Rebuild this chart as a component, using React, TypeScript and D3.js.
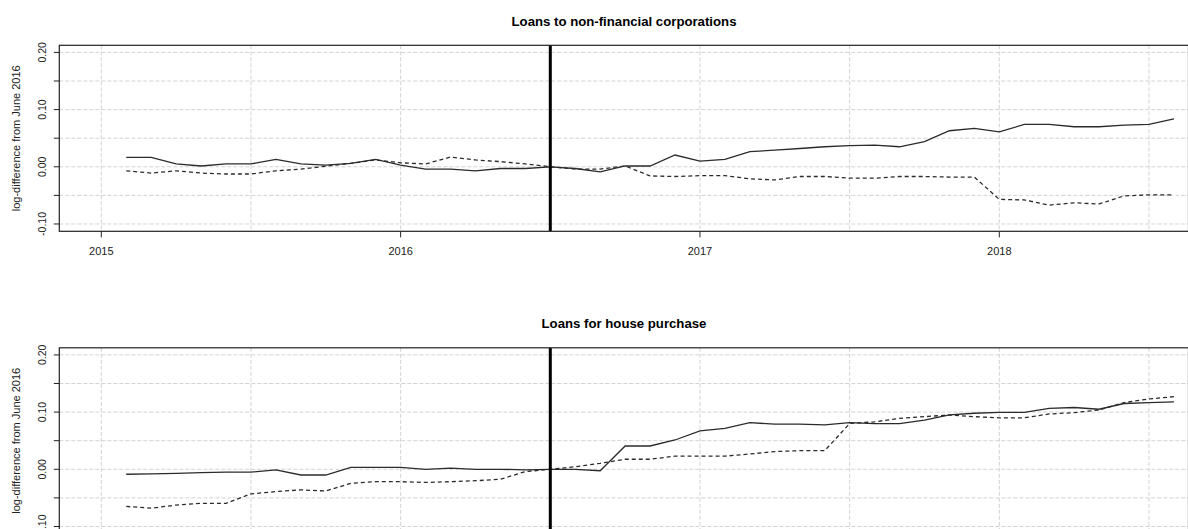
import React from "react";
import * as d3 from "d3";

// Monthly observations, Feb 2015 (index 0) to Aug 2018 (index 42)
const startYear = 2015;
const startMonthOffset = 1; // first obs = 2015 + 1/12
const nObs = 43;

const nfcActual = [
  0.0166, 0.0166, 0.005, 0.0014, 0.005, 0.005, 0.013, 0.005, 0.003, 0.006,
  0.013, 0.003, -0.004, -0.004, -0.007, -0.003, -0.003, 0, -0.003, -0.009,
  0.0014, 0.0014, 0.0206, 0.01, 0.013, 0.0264, 0.029, 0.032, 0.035, 0.037,
  0.038, 0.035, 0.044, 0.063, 0.067, 0.061, 0.074, 0.074, 0.07, 0.07,
  0.073, 0.074, 0.0836,
];
const nfcOther = [
  -0.007, -0.011, -0.007, -0.011, -0.0126, -0.0126, -0.007, -0.004, 0.001, 0.006,
  0.012, 0.007, 0.005, 0.017, 0.012, 0.009, 0.005, 0, -0.004, -0.004,
  0.0014, -0.016, -0.017, -0.0155, -0.0155, -0.021, -0.023, -0.017, -0.017, -0.02,
  -0.02, -0.017, -0.017, -0.018, -0.018, -0.057, -0.058, -0.067, -0.063, -0.065,
  -0.051, -0.049, -0.049,
];
const hpActual = [
  -0.0087, -0.008, -0.007, -0.006, -0.005, -0.005, -0.001, -0.01, -0.01, 0.0035,
  0.0035, 0.0035, 0, 0.002, 0, 0, -0.001, 0, 0, -0.0025,
  0.0407, 0.0407, 0.0512, 0.067, 0.0717, 0.0815, 0.079, 0.079, 0.0775, 0.0815,
  0.08, 0.08, 0.086, 0.095, 0.098, 0.0995, 0.0995, 0.1066, 0.108, 0.105,
  0.115, 0.1165, 0.118,
];
const hpOther = [
  -0.065, -0.068, -0.0625, -0.0595, -0.0595, -0.043, -0.039, -0.036, -0.038, -0.0245,
  -0.0217, -0.0217, -0.023, -0.0217, -0.02, -0.0175, -0.004, 0, 0.0045, 0.0105,
  0.0175, 0.0175, 0.023, 0.023, 0.023, 0.0267, 0.031, 0.0325, 0.0325, 0.08,
  0.083, 0.089, 0.092, 0.095, 0.092, 0.09, 0.09, 0.0967, 0.099, 0.1037,
  0.1165, 0.123, 0.127,
];

const yearTicks = [2015, 2016, 2017, 2018];
const yearTickLabels = ["2015", "2016", "2017", "2018"];
const vGrid = [2014.5, 2015, 2015.5, 2016, 2016.5, 2017, 2017.5, 2018, 2018.5];
const yTicks = [-0.1, -0.05, 0, 0.05, 0.1, 0.15, 0.2];
const yLabelTicks = [-0.1, 0, 0.1, 0.2];
const yLabels = ["-0.10", "0.00", "0.10", "0.20"];
const refDate = 2016.5;
const yTitle = "log-difference from June 2016";

const panels = [
  { title: "Loans to non-financial corporations", a: nfcActual, b: nfcOther, top: 45.3 },
  { title: "Loans for house purchase", a: hpActual, b: hpOther, top: 347.8 },
];

const W = 1188;
const H = 529;
const plotLeft = 59.3;
const plotRight = 1188.5;
const plotH = 186;
const font = "Liberation Sans, Arial, Helvetica, sans-serif";

const times = d3.range(nObs).map((i) => startYear + (i + startMonthOffset) / 12);

const x = d3.scaleLinear().domain([2015, 2018]).range([101.3, 999.3]);

function Panel({ p }: { p: (typeof panels)[number] }) {
  const top = p.top;
  const bottom = top + plotH;
  const y = d3.scaleLinear().domain([-0.1128, 0.2124]).range([bottom, top]);
  const line = d3
    .line<number>()
    .x((_, i) => x(times[i]))
    .y((d) => y(d));
  const titleX = 624;
  const clipId = "clip" + Math.round(top);
  const xLabelY = bottom + 24;
  return (
    <g>
      <defs>
        <clipPath id={clipId}>
          <rect x={plotLeft} y={top} width={plotRight - plotLeft} height={plotH} />
        </clipPath>
      </defs>
      <text
        x={titleX}
        y={top - 19.6}
        textAnchor="middle"
        fontFamily={font}
        fontWeight="bold"
        fontSize={13.2}
        fill="#000"
      >
        {p.title}
      </text>
      <g clipPath={`url(#${clipId})`}>
        {yTicks.map((t) => (
          <line
            key={"h" + t}
            x1={plotLeft}
            x2={plotRight}
            y1={y(t)}
            y2={y(t)}
            stroke="#d3d3d3"
            strokeWidth={1}
            strokeDasharray="4,2"
          />
        ))}
        {vGrid.map((t) => (
          <line
            key={"v" + t}
            x1={x(t)}
            x2={x(t)}
            y1={top}
            y2={bottom}
            stroke="#d3d3d3"
            strokeWidth={1}
            strokeDasharray="4,2"
          />
        ))}
        <path d={line(p.a) || ""} fill="none" stroke="#2b2b2b" strokeWidth={1.3} />
        <path
          d={line(p.b) || ""}
          fill="none"
          stroke="#2b2b2b"
          strokeWidth={1.3}
          strokeDasharray="4,3"
        />
        <line
          x1={x(refDate)}
          x2={x(refDate)}
          y1={top}
          y2={bottom}
          stroke="#000"
          strokeWidth={3}
        />
      </g>
      <rect
        x={plotLeft}
        y={top}
        width={plotRight - plotLeft}
        height={plotH}
        fill="none"
        stroke="#222"
        strokeWidth={1.2}
      />
      {yTicks.map((t) => (
        <line key={"yt" + t} x1={plotLeft - 5.5} x2={plotLeft} y1={y(t)} y2={y(t)} stroke="#222" />
      ))}
      {yLabelTicks.map((t, i) => (
        <text
          key={"yl" + t}
          transform={`translate(${45.5},${y(t)}) rotate(-90)`}
          textAnchor="middle"
          fontFamily={font}
          fontSize={10.5}
          fill="#222"
        >
          {yLabels[i]}
        </text>
      ))}
      <text
        transform={`translate(${19.5},${(top + bottom) / 2}) rotate(-90)`}
        textAnchor="middle"
        fontFamily={font}
        fontSize={11}
        fill="#222"
      >
        {yTitle}
      </text>
      {yearTicks.map((t) => (
        <line key={"xt" + t} x1={x(t)} x2={x(t)} y1={bottom} y2={bottom + 6} stroke="#222" />
      ))}
      {xLabelY - 10 < H &&
        yearTicks.map((t, i) => (
          <text
            key={"xl" + t}
            x={x(t)}
            y={xLabelY}
            textAnchor="middle"
            fontFamily={font}
            fontSize={11}
            fill="#222"
          >
            {yearTickLabels[i]}
          </text>
        ))}
    </g>
  );
}

export default function App() {
  return (
    <svg
      width={W}
      height={H}
      style={{ position: "absolute", left: 0, top: 0, background: "#fff" }}
    >
      <rect x={0} y={0} width={W} height={H} fill="#fff" />
      {panels.map((p) => (
        <Panel key={p.title} p={p} />
      ))}
    </svg>
  );
}
